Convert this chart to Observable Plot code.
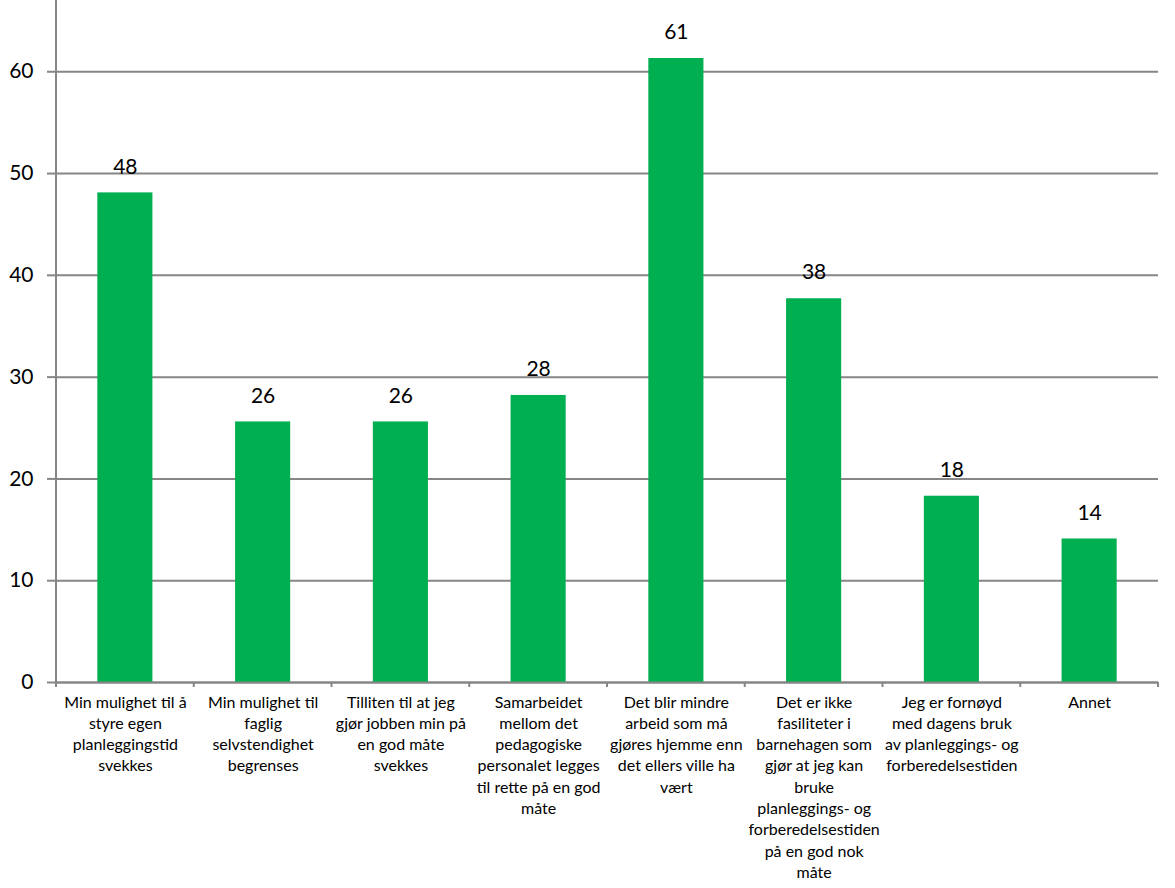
<!DOCTYPE html>
<html><head><meta charset="utf-8">
<script src="https://cdn.jsdelivr.net/npm/d3@7"></script>
<script src="https://cdn.jsdelivr.net/npm/@observablehq/plot@0.6"></script>
<style>html,body{margin:0;padding:0;background:#fff;overflow:hidden}</style>
</head><body><div id="chart"></div>
<script>
const categories = [
  "Min mulighet til å\nstyre egen\nplanleggingstid\nsvekkes",
  "Min mulighet til\nfaglig\nselvstendighet\nbegrenses",
  "Tilliten til at jeg\ngjør jobben min på\nen god måte\nsvekkes",
  "Samarbeidet\nmellom det\npedagogiske\npersonalet legges\ntil rette på en god\nmåte",
  "Det blir mindre\narbeid som må\ngjøres hjemme enn\ndet ellers ville ha\nvært",
  "Det er ikke\nfasiliteter i\nbarnehagen som\ngjør at jeg kan\nbruke\nplanleggings- og\nforberedelsestiden\npå en god nok\nmåte",
  "Jeg er fornøyd\nmed dagens bruk\nav planleggings- og\nforberedelsestiden",
  "Annet"
];
const values = [48.1, 25.6, 25.6, 28.2, 61.3, 37.7, 18.3, 14.1];
const yTicks = [0, 10, 20, 30, 40, 50, 60];

const data = categories.map((c, i) => ({category: c, value: values[i]}));
const gray = "#868686";

const chart = Plot.plot({
  width: 1175, height: 888,
  marginLeft: 56, marginRight: 17, marginTop: 0, marginBottom: 206,
  style: {fontFamily: "Lato, 'Open Sans', sans-serif", background: "#fff", color: "#000"},
  x: {domain: categories, paddingInner: 0.6, paddingOuter: 0.3, round: false, label: null},
  y: {domain: [0, 67], ticks: yTicks, label: null},
  marks: [
    Plot.gridY(yTicks, {stroke: gray, strokeOpacity: 1, strokeWidth: 2}),
    Plot.axisY(yTicks, {tickSize: 9, tickPadding: 14, stroke: gray, strokeWidth: 2, fill: "#000", fontSize: 21, label: null}),
    Plot.axisX({tickSize: 0, tickPadding: 10, fontSize: 16, lineHeight: 1.33, fill: "#000", label: null}),
    Plot.barY(data, {x: "category", y: "value", fill: "#00B050"}),
    Plot.ruleY([0], {stroke: gray, strokeWidth: 2}),
    Plot.text(data, {x: "category", y: "value", text: d => String(Math.round(d.value)), dy: -26, fontSize: 21, fill: "#000"})
  ]
});
document.getElementById("chart").appendChild(chart);

// left axis line and category boundary ticks, positioned via Plot's scales
const xs = chart.scale("x"), ys = chart.scale("y");
const svg = d3.select(chart.tagName.toLowerCase() === "svg" ? chart : chart.querySelector("svg"));
const y0 = ys.apply(0);
const yTop = Math.min(...ys.range);
const step = (xs.range[1] - xs.range[0]) / categories.length;
const g = svg.append("g").attr("stroke", gray).attr("stroke-width", 2);
g.append("line").attr("x1", xs.range[0]).attr("x2", xs.range[0]).attr("y1", yTop).attr("y2", y0 + 5);
categories.forEach((c, i) => {
  const b = xs.apply(c) - (step - xs.bandwidth) / 2;
  g.append("line").attr("x1", b).attr("x2", b).attr("y1", y0).attr("y2", y0 + 5);
  if (i === categories.length - 1) {
    const e = b + step;
    g.append("line").attr("x1", e).attr("x2", e).attr("y1", y0).attr("y2", y0 + 5);
  }
});
</script>
</body></html>
